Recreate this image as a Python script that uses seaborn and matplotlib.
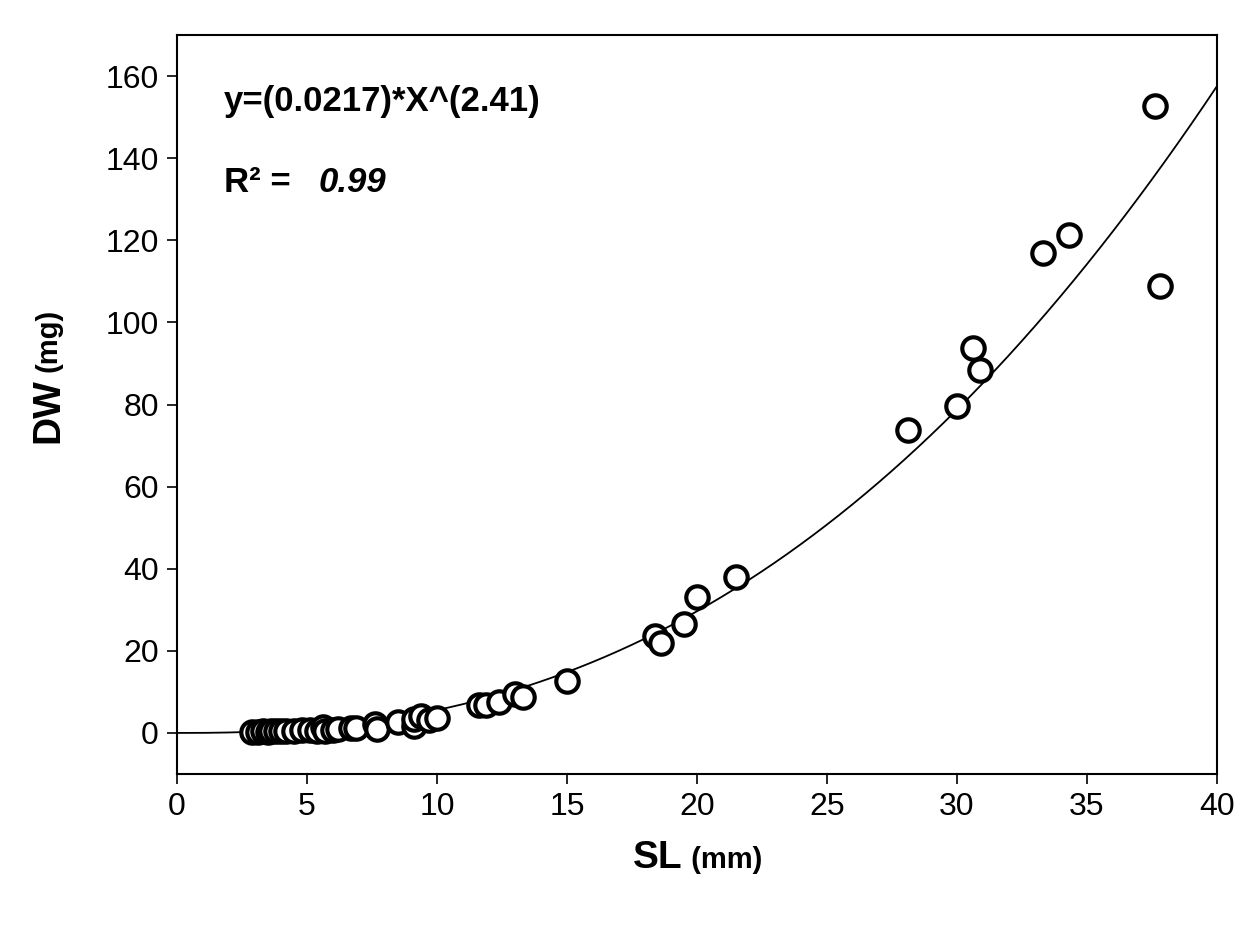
import numpy as np
import pandas as pd
import matplotlib
matplotlib.use("Agg")
import matplotlib.pyplot as plt
import seaborn as sns

sl = [2.9,3.1,3.3,3.5,3.6,3.8,4.0,4.2,4.5,4.8,5.1,5.4,5.6,5.7,6.0,6.2,6.7,6.9,7.6,7.7,8.5,9.1,9.1,9.4,9.7,10.0,
      11.6,11.9,12.4,13.0,13.3,15.0,18.4,18.6,19.5,20.0,21.5,28.1,30.0,30.6,30.9,33.3,34.3,37.6,37.8]
dw = [0.3,0.3,0.4,0.3,0.4,0.4,0.5,0.4,0.5,0.6,0.6,0.5,1.4,0.5,0.6,0.9,1.2,1.3,2.1,1.0,2.7,1.7,3.4,4.1,3.2,3.7,
      6.8,6.8,7.5,9.5,8.7,12.6,23.5,22.0,26.5,33.0,38.0,73.8,79.6,93.7,88.4,117.0,121.4,152.7,108.8]
coef_a, coef_b = 0.0217, 2.41

sns.set_theme(style="white")
plt.rcParams['font.family'] = ['Liberation Sans', 'DejaVu Sans']
plt.rcParams['text.color'] = 'black'
plt.rcParams['mathtext.fontset'] = 'custom'
plt.rcParams['mathtext.bf'] = 'Liberation Sans:bold'
plt.rcParams['mathtext.rm'] = 'Liberation Sans'
fig = plt.figure(figsize=(12.6, 9.25), dpi=100)
ax = fig.add_axes([177/1260, 1-774/925, 1040/1260, 739/925])

xs = np.linspace(0, 40, 400)
ax.plot(xs, coef_a * xs**coef_b, color="black", lw=1.3)
df = pd.DataFrame({"SL": sl, "DW": dw})
sns.scatterplot(data=df, x="SL", y="DW", ax=ax, marker="o", s=260,
                facecolor="white", edgecolor="black", linewidth=3, zorder=3)

ax.set_xlim(0, 40)
ax.set_ylim(-10, 170)
ax.set_xticks(range(0, 41, 5))
ax.set_yticks(range(0, 161, 20))
ax.tick_params(axis="both", direction="out", length=7, width=1.2, labelsize=23, color="black",
               labelcolor="black", bottom=True, left=True, pad=6)
for s in ax.spines.values():
    s.set_color("black"); s.set_linewidth(1.5)
ax.set_xlabel("")
ax.set_ylabel("")
fig.text(683/1260, 1-858/925, "SL", ha="right", va="center", fontsize=28, fontweight="bold")
fig.text(683/1260, 1-860/925, " (mm)", ha="left", va="center", fontsize=21, fontweight="bold")
fig.text(48/1260, 1-378/925, "DW", ha="center", va="top", fontsize=28, fontweight="bold", rotation=90)
fig.text(48/1260, 1-372/925, "(mg)", ha="center", va="bottom", fontsize=21, fontweight="bold", rotation=90)

ax.text(0.045, 0.91, "y=(0.0217)*X^(2.41)", transform=ax.transAxes, fontsize=25, fontweight="bold",
        ha="left", va="center")
ax.text(0.045, 0.80, "R² =", transform=ax.transAxes, fontsize=25, fontweight="bold",
        ha="left", va="center")
ax.text(0.136, 0.80, "0.99", transform=ax.transAxes, fontsize=25, fontweight="bold", style="italic",
        ha="left", va="center")
fig.savefig("out.png", dpi=100)
